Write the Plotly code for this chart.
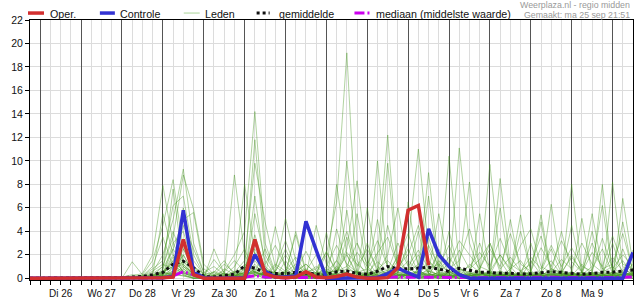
import plotly.graph_objects as go
import pandas as pd

# ---------------- data ----------------
start = pd.Timestamp("2023-09-25 18:00")
times = pd.date_range(start, periods=60, freq="6h")

day_labels = ["Di 26", "Wo 27", "Do 28", "Vr 29", "Za 30", "Zo 1", "Ma 2",
              "Di 3", "Wo 4", "Do 5", "Vr 6", "Za 7", "Zo 8", "Ma 9"]
y_ticks = [0, 2, 4, 6, 8, 10, 12, 14, 16, 18, 20, 22]

Z9 = [0, 0, 0, 0, 0, 0, 0, 0, 0]

oper = Z9 + [0, 0, 0, 0,  0.05, 0.1, 3.3, 0.3,  0, 0, 0, 0,  0, 3.3, 0.4, 0.1,
             0.05, 0.1, 0.55, 0.1,  0.05, 0.15, 0.35, 0.1,  0, 0, 0.05, 0.9,
             5.8, 6.2, 1.1] + [None] * 20

controle = Z9 + [0, 0, 0, 0,  0.05, 0.15, 5.8, 0.5,  0.05, 0, 0, 0,  0.05, 2.0, 0.6, 0.1,
                 0.1, 0.2, 4.85, 2.4,  0, 0, 0, 0,  0, 0.05, 0.4, 0.85,
                 0.45, 0.1, 4.2, 2.0,  1.0, 0.3, 0, 0,  0, 0, 0, 0,  0, 0, 0, 0,
                 0, 0, 0, 0,  0, 0, 2.2]

gemiddelde = Z9 + [0.05, 0.1, 0.15, 0.3,  0.5, 1.2, 1.45, 0.9,  0.15, 0.1, 0.2, 0.35,
                   1.05, 0.85, 0.5, 0.4,  0.4, 0.5, 0.45, 0.35,  0.34, 0.55, 0.62, 0.4,
                   0.34, 0.6, 1.0, 0.8,  0.8, 0.85, 0.93, 0.78,  0.57, 0.85, 0.7, 0.5,
                   0.5, 0.42, 0.42, 0.35,  0.38, 0.45, 0.57, 0.5,  0.42, 0.34, 0.4, 0.5,
                   0.52, 0.6, 0.7]

mediaan = Z9 + [0, 0, 0, 0,  0.02, 0.2, 0.55, 0.3,  0.02, 0, 0, 0.02,  0.1, 0.2, 0.1, 0.05,
                0.03, 0.05, 0.08, 0.04,  0.03, 0.06, 0.1, 0.05,  0.04, 0.08, 0.12, 0.1,
                0.08, 0.1, 0.12, 0.08,  0.06, 0.1, 0.08, 0.05,  0.06, 0.05, 0.07, 0.05,
                0.05, 0.06, 0.08, 0.06,  0.05, 0.04, 0.06, 0.07,  0.06, 0.08, 0.1]

leden = [
    Z9 + [0, 0, 0.1, 0.5, 2.0, 5.0, 9.3, 3.0, 0.5, 0.2, 0, 0.3, 1.0, 2.5, 0.8, 0.2,
          0, 0.5, 1.2, 0.4, 2.0, 6.5, 19.2, 3.0, 0.5, 0, 0.3, 1.5, 0.4, 0, 0, 0.6,
          1.8, 0.5, 0, 0, 0.3, 2.0, 0.6, 0, 0, 0.5, 1.5, 0.3, 0, 0, 0.8, 2.5, 0.4, 0, 0],
    Z9 + [0, 0, 0, 0.2, 1.0, 3.5, 8.8, 5.9, 1.2, 0.3, 0.6, 2.0, 4.0, 14.2, 3.0, 0.5,
          0.2, 0, 0.4, 1.0, 0.3, 0, 0.6, 2.2, 1.0, 0.2, 0, 0.5, 3.0, 11.0, 2.5, 0.4,
          0, 0.2, 1.2, 0.5, 0, 0.6, 0.2, 0, 1.5, 0.3, 0, 0.4, 2.0, 0.5, 0, 0, 0.5, 1.5, 0.3],
    Z9 + [0, 0, 0.3, 1.5, 4.5, 8.4, 2.5, 0.6, 0.2, 1.6, 0.5, 0, 0.8, 11.8, 2.0, 0.4,
          0, 1.0, 0.3, 0, 0, 0.5, 2.5, 8.3, 1.5, 0.3, 0, 0, 0.6, 2.0, 0.4, 0,
          0, 11.1, 3.0, 0.5, 0.2, 0, 0.8, 1.5, 0.3, 0, 0, 0.6, 0.2, 1.2, 0.3, 0, 0, 0.4, 1.2],
    Z9 + [0, 0.2, 0.4, 2.0, 7.9, 3.0, 4.0, 1.0, 0, 0, 0.4, 8.8, 2.0, 0.5, 0.2, 0.6,
          5.1, 1.5, 0.3, 0, 0.2, 1.0, 0.3, 0, 0, 2.0, 12.2, 1.0, 0.2, 0, 0.3, 1.5,
          0.4, 0, 0, 0.3, 9.7, 1.5, 0.2, 0, 0, 0.6, 2.5, 0.4, 0.2, 0, 0, 0.5, 1.0, 0.2, 0],
    Z9 + [0.1, 0.3, 0.2, 0.8, 1.5, 6.2, 7.0, 2.0, 0.3, 0, 0.1, 0.5, 1.5, 9.8, 4.8, 1.0,
          0.4, 0, 0.2, 4.5, 1.2, 0.3, 0, 0.5, 0.3, 0.5, 2.0, 6.0, 1.0, 0.2, 0, 0,
          0.5, 1.0, 8.2, 0.6, 0, 0.3, 0, 0.2, 0.6, 5.4, 0.5, 0, 0, 0.3, 1.0, 6.2, 0.6, 0, 0.3],
    Z9 + [0, 1.4, 0.3, 0, 0.3, 2.5, 5.0, 5.6, 0.8, 0.2, 0, 0, 0.3, 0.6, 0.2, 4.4,
          0.8, 0.2, 0, 0, 0, 0.4, 10.0, 1.5, 0.2, 0, 0.5, 0.2, 0, 0.8, 9.0, 1.0,
          0.2, 0, 0, 0.6, 0.3, 8.5, 1.0, 0, 0, 0.2, 0.8, 0.4, 0.4, 0.3, 0, 0, 8.2, 1.0, 0.2],
    Z9 + [0, 0, 0, 0.4, 1.0, 4.0, 1.5, 0.2, 0, 0.3, 1.2, 0.5, 0, 7.0, 1.0, 0.3,
          0.5, 3.7, 0.4, 0, 3.9, 0.5, 0, 0.2, 0.2, 10.0, 1.0, 0, 0, 0.2, 1.5, 0.3,
          10.4, 1.0, 0, 0, 0.4, 0, 0.6, 5.4, 0.5, 0, 0.2, 0, 0.3, 5.1, 0.4, 0, 0, 0.5, 0.2],
    Z9 + [0, 0, 0.2, 0.3, 5.5, 2.0, 0.5, 0.1, 0, 2.5, 0.4, 0, 0.5, 1.0, 0.6, 0.2,
          0, 0.5, 2.3, 0.6, 0.3, 0, 0.4, 0, 0.5, 0.3, 0, 0.8, 2.5, 0.4, 7.0, 0.5,
          0, 0.4, 0, 0.2, 0, 0.2, 0.5, 0, 0.4, 4.8, 0.3, 0, 0.6, 0, 0.2, 0.4, 0, 6.8, 1.2],
    Z9 + [0, 0, 0, 0, 0.4, 1.5, 3.0, 0.8, 0.2, 0, 0.8, 0.3, 8.0, 2.0, 0.3, 0,
          0, 0.2, 0.5, 0.3, 0, 4.2, 1.0, 0.3, 0, 0.4, 9.8, 0.5, 0.3, 0, 0.2, 0,
          0.5, 0.3, 0, 0.4, 0.2, 0, 0.3, 0, 0.2, 0.3, 6.3, 0.5, 0, 0.2, 0, 0.3, 0.5, 0.2, 0],
    Z9 + [0, 0, 0.1, 0.2, 0.6, 7.6, 1.0, 0.3, 0, 0, 0.2, 1.0, 2.5, 0.3, 0, 0.2,
          0.5, 0.3, 0, 0.2, 0.6, 0.2, 5.8, 0.4, 0, 0.2, 0.4, 0, 0.5, 4.0, 0.4, 0.2,
          0, 0.6, 0.3, 0, 0.5, 0, 0, 0.6, 0.3, 0, 0.4, 0.2, 8.0, 0.5, 0, 0.2, 0.3, 0, 0.5],
    Z9 + [0, 0, 0.2, 0.6, 1.2, 0.8, 6.0, 1.5, 0.3, 0.5, 0, 0, 0, 5.5, 1.5, 0.2,
          0, 0, 0.3, 0.5, 0.2, 0, 0.2, 0.3, 3.0, 0.5, 0, 0.2, 0.4, 0.2, 0, 2.5,
          0.3, 0, 0.5, 0, 0, 0.4, 0, 0.3, 0.2, 0, 0, 0.3, 0.5, 0, 0.3, 8.0, 0.4, 0, 0.2],
    Z9 + [0, 0, 0, 0.1, 0.2, 0.5, 2.0, 0.4, 0, 0.2, 0.4, 0.2, 0.3, 0.2, 0.5, 0.3,
          0.4, 0.2, 0.3, 0, 0.5, 0.3, 0.2, 0.6, 0.4, 0.3, 0.2, 0.3, 0.2, 0.4, 0.3, 0.2,
          0.3, 0.2, 0.4, 0.3, 0.2, 0.3, 0.4, 0.2, 0.3, 0.2, 0.3, 0.4, 0.2, 0.3, 0.2, 0.3, 0.4, 0.3, 0.5],
    Z9 + [0, 0, 0, 0, 0.8, 2.5, 1.0, 0.2, 0, 0, 0, 0.4, 1.0, 0.3, 0, 0.1,
          0, 0.2, 0, 0, 0, 0.3, 0.5, 0.2, 0.5, 5.0, 0.8, 0.3, 0, 0.2, 0.5, 5.5,
          1.0, 0.2, 0, 0, 0, 0.2, 5.0, 0.5, 0, 0.2, 0.4, 0, 0.3, 0.2, 4.0, 0.3, 0, 0.2, 0.6],
    Z9 + [0, 0, 0.1, 0.3, 0.5, 1.0, 4.5, 2.5, 0.5, 1.0, 0.3, 0, 0.2, 3.0, 0.5, 0,
          1.5, 0.3, 0.2, 0, 0, 0.5, 2.0, 0.4, 0, 0, 0.3, 0.5, 6.5, 0.8, 0, 0.2,
          0.5, 0.2, 0.3, 0, 0.2, 6.0, 0.4, 0, 0, 0.2, 0.3, 0.5, 0.2, 0, 0.3, 0.2, 0.3, 4.8, 0.4],
    Z9 + [0, 0, 0, 0.2, 0.3, 3.0, 1.2, 0.3, 0, 0, 0.2, 0.6, 0.3, 0.5, 0.2, 0,
          0.3, 4.0, 0.6, 0.2, 0.2, 0, 0.3, 0, 0.3, 0.2, 0.5, 0.2, 0.2, 0.3, 0.2, 0.5,
          0.2, 0.4, 0.2, 0.3, 0.5, 0.2, 0.3, 0.2, 0, 0.5, 0.2, 0.3, 0.2, 0.4, 0.2, 0, 0.3, 0.2, 0.4],
    Z9 + [0, 0, 0, 0, 0, 0.5, 0.4, 0.2, 0, 0, 0, 0, 0.2, 0.8, 0.3, 0,
          0, 0.4, 0.2, 0, 0.3, 0.2, 0, 0.2, 0.2, 0, 0, 0.3, 0.2, 0.3, 0, 0.2,
          0.2, 0.3, 0.2, 0, 0.2, 0, 0.2, 0.3, 0.2, 0.3, 0, 0.2, 0.2, 0, 0.3, 0.2, 0.2, 0.3, 0.2],
    Z9 + [0, 0, 0.2, 1.0, 3.5, 1.0, 0.3, 0, 0, 0.5, 1.5, 0.3, 0, 0.2, 0.3, 0.5,
          2.5, 0.5, 0, 0, 0.4, 0.2, 0, 0, 0.2, 0.6, 4.5, 1.0, 0.2, 0, 0, 0.3,
          0, 0.2, 0.6, 3.0, 0.5, 0, 0, 0.2, 0, 0, 0.5, 4.0, 0.5, 0, 0, 0.3, 0, 0, 0.4],
    Z9 + [0, 0, 0, 0, 0.2, 1.8, 0.5, 0, 0.2, 0, 0, 0.2, 0.5, 2.0, 0, 0,
          0, 0, 0, 0.5, 2.3, 0.4, 0, 0, 0, 0.3, 0, 0, 0.3, 0.2, 0.8, 0.2,
          0, 0, 0.4, 0.2, 0, 0.3, 0.2, 0, 0.4, 0, 0, 0.2, 0, 0.5, 0.2, 0, 0.2, 0, 0.3],
    Z9 + [0, 0, 0, 0, 0.5, 0.3, 1.0, 0.5, 0.2, 0, 0.3, 0.2, 0.4, 1.2, 0.2, 0.3,
          0.2, 0.5, 0.3, 0.2, 0.2, 1.5, 0.3, 0, 0.2, 0.5, 0.3, 0.2, 0.3, 0.5, 0.2, 0.3,
          0.5, 0.2, 0.2, 0.4, 0.2, 0.3, 0.2, 0.4, 0.3, 0.2, 0.4, 0.3, 0.3, 0.3, 0.4, 0.2, 0.3, 0.4, 0.3],
    Z9 + [0, 0, 0, 0.3, 0.6, 1.2, 0.4, 0.2, 0, 0, 0.2, 0.5, 0.3, 0.4, 0.3, 0.2,
          0.2, 0.3, 0.2, 0.2, 0.3, 0.2, 0.3, 0.2, 0.3, 0.2, 0.6, 0.4, 0.2, 0.3, 0.4, 0.2,
          0.3, 0.2, 0.3, 0.2, 0.3, 0.4, 0.2, 0.3, 0.2, 0.4, 0.3, 0.2, 0.4, 0.2, 0.3, 0.3, 0.2, 0.3, 0.4],
    Z9 + [0, 0, 0, 0.1, 0.3, 0.6, 2.0, 0.4, 0, 0, 0, 0.2, 0.6, 3.7, 0.8, 0.2,
          0, 0.3, 0.2, 0, 0.5, 8.0, 2.0, 0.2, 0, 0.2, 0.3, 0.4, 0.2, 0.6, 0.2, 0,
          0.2, 0, 0.3, 0.8, 3.0, 0.5, 0, 0, 0.3, 0.2, 0, 0.5, 4.5, 0.4, 0, 0.2, 0.3, 0, 0.2],
    Z9 + [0, 0, 0, 0, 0.2, 0.4, 1.5, 1.0, 0.3, 0, 0, 0, 0, 0.3, 0.2, 1.0,
          3.2, 0.8, 0.2, 0, 0.3, 0.2, 0.5, 5.5, 0.8, 0.2, 0, 0.2, 0.3, 0.2, 3.5, 0.6,
          0.2, 0, 0.2, 0.4, 0.2, 0, 0.5, 4.0, 0.6, 0.2, 0, 0, 0.2, 0.5, 5.5, 0.8, 0.2, 0, 0.3],
    Z9 + [0, 0, 0, 0.2, 0.5, 0.3, 0.2, 0, 0, 0, 0, 0, 0.2, 0.5, 2.5, 0.4,
          0, 0, 0.6, 2.0, 0.5, 0.2, 0, 0.3, 6.0, 1.0, 0.2, 0, 0.3, 0.5, 0, 0.2,
          4.0, 0.5, 0, 0.2, 0, 0.3, 0, 0.2, 3.0, 0.3, 0, 0.2, 0, 0.3, 0.2, 0, 0.2, 2.5, 0.3],
    Z9 + [0, 0, 0, 0, 0, 1.0, 0.3, 0, 0, 0, 0.3, 0, 0.2, 0.8, 0.2, 0,
          0.2, 0, 0, 0.3, 0, 0.3, 3.5, 0.5, 0.2, 0, 0.2, 2.0, 0.3, 0, 0.2, 0,
          0, 0.3, 0, 5.5, 0.5, 0.2, 0, 0, 0, 0.3, 0.2, 0, 0.2, 0, 0.5, 0.2, 3.0, 0.3, 0],
    Z9 + [0, 0, 0, 0, 0.2, 0.2, 0.8, 0.2, 0, 0.2, 0, 0, 0, 0.2, 0.5, 0.2,
          0, 0, 0.2, 0, 0.2, 0, 0.2, 0.2, 0.3, 0.2, 0.2, 0.3, 0.2, 0.2, 0.3, 0.2,
          0.2, 0.2, 0.2, 0.3, 0.2, 0.3, 0.2, 0.2, 0.3, 0.2, 0.2, 0.3, 0.2, 0.2, 0.3, 0.2, 0.2, 0.3, 0.2],
    Z9 + [0, 0, 0, 0.1, 0.3, 0.8, 1.2, 0.3, 0.1, 0, 0.1, 0.2, 0.5, 1.5, 0.4, 0.2,
          0.3, 0.2, 0.6, 0.3, 0.3, 0.8, 0.4, 0.2, 0.3, 0.8, 1.5, 0.5, 0.5, 1.2, 0.6, 0.3,
          0.4, 0.8, 0.5, 0.3, 0.6, 0.4, 0.3, 0.5, 0.4, 0.3, 0.6, 0.3, 0.3, 0.5, 0.4, 0.5, 0.4, 0.6, 0.5],
    Z9 + [0, 0, 0, 0, 0.1, 0.4, 0.2, 0, 0, 0, 0, 0.1, 0.3, 0.6, 0.2, 0.1,
          0.2, 0.4, 0.2, 0.1, 0.5, 0.6, 0.3, 0.2, 0.2, 0.4, 0.7, 0.3, 0.4, 0.6, 0.3, 0.4,
          0.6, 0.3, 0.2, 0.5, 0.3, 0.2, 0.4, 0.3, 0.2, 0.4, 0.3, 0.2, 0.3, 0.2, 0.4, 0.3, 0.5, 0.3, 0.4],
    Z9 + [0, 0, 0, 0.2, 0.4, 1.5, 0.6, 0.2, 0, 0.3, 0.4, 0.2, 0.8, 0.5, 0.3, 1.2,
          0.6, 0.3, 0.2, 0.4, 0.6, 0.3, 0.8, 0.4, 0.3, 0.6, 0.4, 0.2, 0.8, 0.4, 0.6, 0.3,
          0.2, 0.8, 0.4, 0.3, 0.4, 0.6, 0.3, 0.2, 0.5, 0.3, 0.2, 0.6, 0.4, 0.3, 0.5, 0.4, 0.3, 0.5, 0.3],
    Z9 + [0, 0, 0, 0, 0.2, 0.6, 1.5, 0.5, 0, 0.2, 0, 0.3, 0.4, 1.8, 0.6, 0.2,
          0.5, 1.2, 0.4, 0.2, 1.0, 2.8, 1.2, 0.5, 0.8, 2.2, 3.5, 1.0, 2.0, 4.5, 1.5, 0.6,
          1.2, 3.2, 2.0, 0.8, 2.5, 1.0, 3.8, 1.2, 0.6, 2.6, 1.0, 3.2, 1.4, 0.5, 2.2, 1.0, 3.6, 1.2, 0.8],
    Z9 + [0, 0, 0.1, 0.2, 0.5, 1.0, 0.6, 0.2, 0, 0, 0.5, 1.5, 0.6, 0.3, 1.2, 2.8,
          1.0, 0.4, 0.8, 0.3, 0.5, 1.5, 4.0, 1.0, 2.5, 0.8, 0.4, 1.8, 3.8, 1.2, 0.5, 2.2,
          0.8, 1.5, 4.2, 1.0, 0.6, 2.0, 0.8, 2.8, 4.2, 1.0, 0.5, 1.6, 0.8, 3.0, 1.2, 0.5, 1.8, 0.6, 2.4],
    Z9 + [0, 0, 0, 0, 0.1, 0.3, 2.5, 1.0, 0.4, 0, 0, 0.2, 0.2, 2.2, 0.8, 0.4,
          0.6, 1.8, 0.5, 0.8, 2.2, 0.6, 1.0, 3.0, 1.2, 3.2, 1.0, 0.5, 1.5, 0.6, 2.8, 1.0,
          2.8, 0.6, 1.0, 2.2, 1.0, 3.4, 1.2, 0.6, 1.8, 0.8, 2.8, 1.0, 2.6, 1.0, 0.6, 3.4, 0.8, 2.0, 1.0],
    Z9 + [0, 0, 0, 0.1, 0.3, 2.0, 0.8, 0.2, 0, 0.6, 0.2, 0, 1.2, 0.5, 0.2, 0.6,
          2.0, 0.6, 1.2, 0.4, 0.8, 0.4, 2.2, 1.2, 0.5, 1.4, 0.6, 3.0, 1.0, 2.4, 0.8, 1.2,
          0.5, 2.4, 0.8, 1.6, 3.0, 0.8, 1.8, 0.6, 1.2, 3.6, 0.8, 0.5, 1.8, 0.6, 3.0, 0.8, 1.2, 3.8, 0.6],
]

for name, s in [("oper", oper), ("controle", controle), ("gemiddelde", gemiddelde), ("mediaan", mediaan)] + \
        [("lid%d" % k, m) for k, m in enumerate(leden)]:
    if len(s) != len(times):
        raise ValueError("%s has %d values" % (name, len(s)))

# ---------------- style ----------------
FONT = "Liberation Sans, Arial, sans-serif"
RED = "#d22f2f"
BLUE = "#3232d2"
GREEN = "rgba(70,150,30,0.42)"
MAGENTA = "#cc00ee"
W, H = 635, 300
ML, MR, MT, MB = 30, 1, 20, 18


def px(xp):
    return (xp - ML) / (W - ML - MR)


def py(yp):
    return (H - MB - yp) / (H - MT - MB)


fig = go.Figure()
for m in leden:
    fig.add_trace(go.Scatter(x=times, y=m, mode="lines", line=dict(color=GREEN, width=1),
                             showlegend=False, hoverinfo="skip"))
fig.add_trace(go.Scatter(x=times, y=mediaan, mode="lines",
                         line=dict(color=MAGENTA, width=3, dash="10px,3px,2px,3px"), showlegend=False))
fig.add_trace(go.Scatter(x=times, y=gemiddelde, mode="lines",
                         line=dict(color="#111111", width=3, dash="dot"), showlegend=False))
fig.add_trace(go.Scatter(x=times, y=controle, mode="lines",
                         line=dict(color=BLUE, width=3.5), showlegend=False))
fig.add_trace(go.Scatter(x=times, y=oper, mode="lines",
                         line=dict(color=RED, width=3.5), showlegend=False))

noons = pd.date_range("2023-09-26 12:00", periods=len(day_labels), freq="D")
midnights = pd.date_range("2023-09-26 00:00", periods=len(day_labels) + 1, freq="D")

# helper (invisible) trace that carries the day-boundary axis
fig.add_trace(go.Scatter(x=midnights, y=[None] * len(midnights), xaxis="x2", mode="lines",
                         showlegend=False, hoverinfo="skip"))

shapes = []
# custom legend
legend_items = [
    ("Oper.", 28, 44, 48, dict(color=RED, width=3.5)),
    ("Controle", 100, 115, 118, dict(color=BLUE, width=3.5)),
    ("Leden", 184, 200, 203, dict(color="#b8dcaa", width=1.2)),
    ("gemiddelde", 257, 270, 277, dict(color="#111111", width=3, dash="dot")),
    ("mediaan (middelste waarde)", 355, 372, 375, dict(color=MAGENTA, width=3, dash="10px,3px,2px,3px")),
]
annotations = []
for label, x0, x1, xt, ln in legend_items:
    shapes.append(dict(type="line", xref="paper", yref="paper", x0=px(x0), x1=px(x1),
                       y0=py(13), y1=py(13), line=ln, layer="above"))
    annotations.append(dict(text=label, xref="paper", yref="paper", x=px(xt), y=py(13.5),
                            xanchor="left", yanchor="middle", showarrow=False,
                            font=dict(family=FONT, size=10.7, color="#111111")))

annotations.append(dict(text="Weerplaza.nl - regio midden", xref="paper", yref="paper",
                        x=px(633), y=py(5), xanchor="right", yanchor="middle", showarrow=False,
                        font=dict(family=FONT, size=8.8, color="#999999")))
annotations.append(dict(text="Gemaakt: ma 25 sep 21:51", xref="paper", yref="paper",
                        x=px(633), y=py(15), xanchor="right", yanchor="middle", showarrow=False,
                        font=dict(family=FONT, size=8.8, color="#999999")))

fig.update_layout(
    width=W, height=H,
    margin=dict(l=ML, r=MR, t=MT, b=MB, pad=0),
    paper_bgcolor="white", plot_bgcolor="white",
    showlegend=False,
    shapes=shapes,
    annotations=annotations,
    xaxis=dict(
        type="date",
        range=[times[0], times[-1]],
        tickvals=noons, ticktext=day_labels,
        ticks="outside", ticklen=4, tickcolor="black", tickwidth=1,
        showgrid=True, gridcolor="#dcdcdc", gridwidth=1,
        minor=dict(dtick=6 * 3600 * 1000, tick0="2023-09-25 18:00", ticks="outside",
                   ticklen=4, tickcolor="black", showgrid=True, gridcolor="#dcdcdc", gridwidth=1),
        showline=True, linecolor="black", linewidth=1, mirror=True,
        tickfont=dict(family=FONT, size=10, color="#111111"),
        zeroline=False, fixedrange=True,
    ),
    xaxis2=dict(
        type="date", overlaying="x", side="bottom", matches="x",
        range=[times[0], times[-1]],
        tickvals=midnights, showticklabels=False, ticks="",
        showgrid=True, gridcolor="#555555", gridwidth=1,
        showline=False, zeroline=False, fixedrange=True,
    ),
    yaxis=dict(
        range=[-0.15, 22],
        tickvals=y_ticks,
        ticks="outside", ticklen=4, tickcolor="black",
        showgrid=True, gridcolor="#dcdcdc", gridwidth=1,
        showline=True, linecolor="black", linewidth=1, mirror=True,
        tickfont=dict(family=FONT, size=10.5, color="#111111"),
        zeroline=False, fixedrange=True,
    ),
)

fig.write_html("out.html")
